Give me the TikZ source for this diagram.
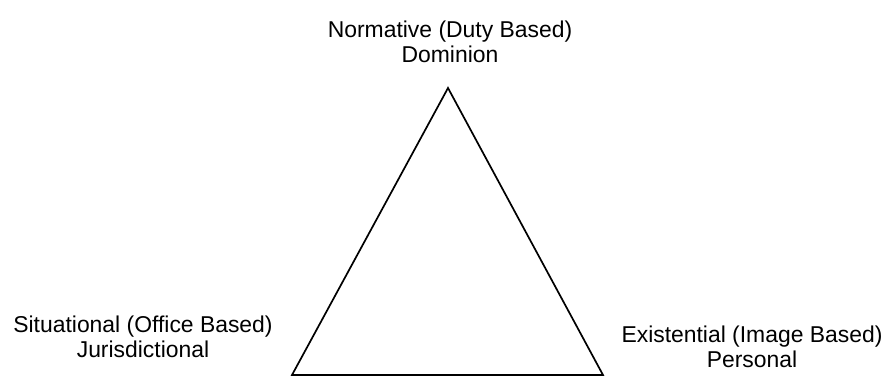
\documentclass[tikz,border=0pt]{standalone}
\usepackage{fontspec}
\setmainfont{Liberation Sans}
\begin{document}
\begin{tikzpicture}[x=1pt,y=1pt,
  lbl/.style={align=center,inner sep=0pt,font=\fontsize{22.9}{24.5}\selectfont},
  edge/.style={line width=1.7pt,line join=miter}]
\useasboundingbox (0,0) rectangle (892,378);
\coordinate (top) at (448,290);
\coordinate (bl) at (292,3);
\coordinate (br) at (603,3);
\draw[edge] (top) -- (bl) -- (br) -- cycle;
\node[lbl] (norm) at (450,336) {Normative (Duty Based)\\Dominion};
\node[lbl] (sit) at (143,41) {Situational (Office Based)\\Jurisdictional};
\node[lbl] (exi) at (752,31) {Existential (Image Based)\\Personal};
\end{tikzpicture}
\end{document}
